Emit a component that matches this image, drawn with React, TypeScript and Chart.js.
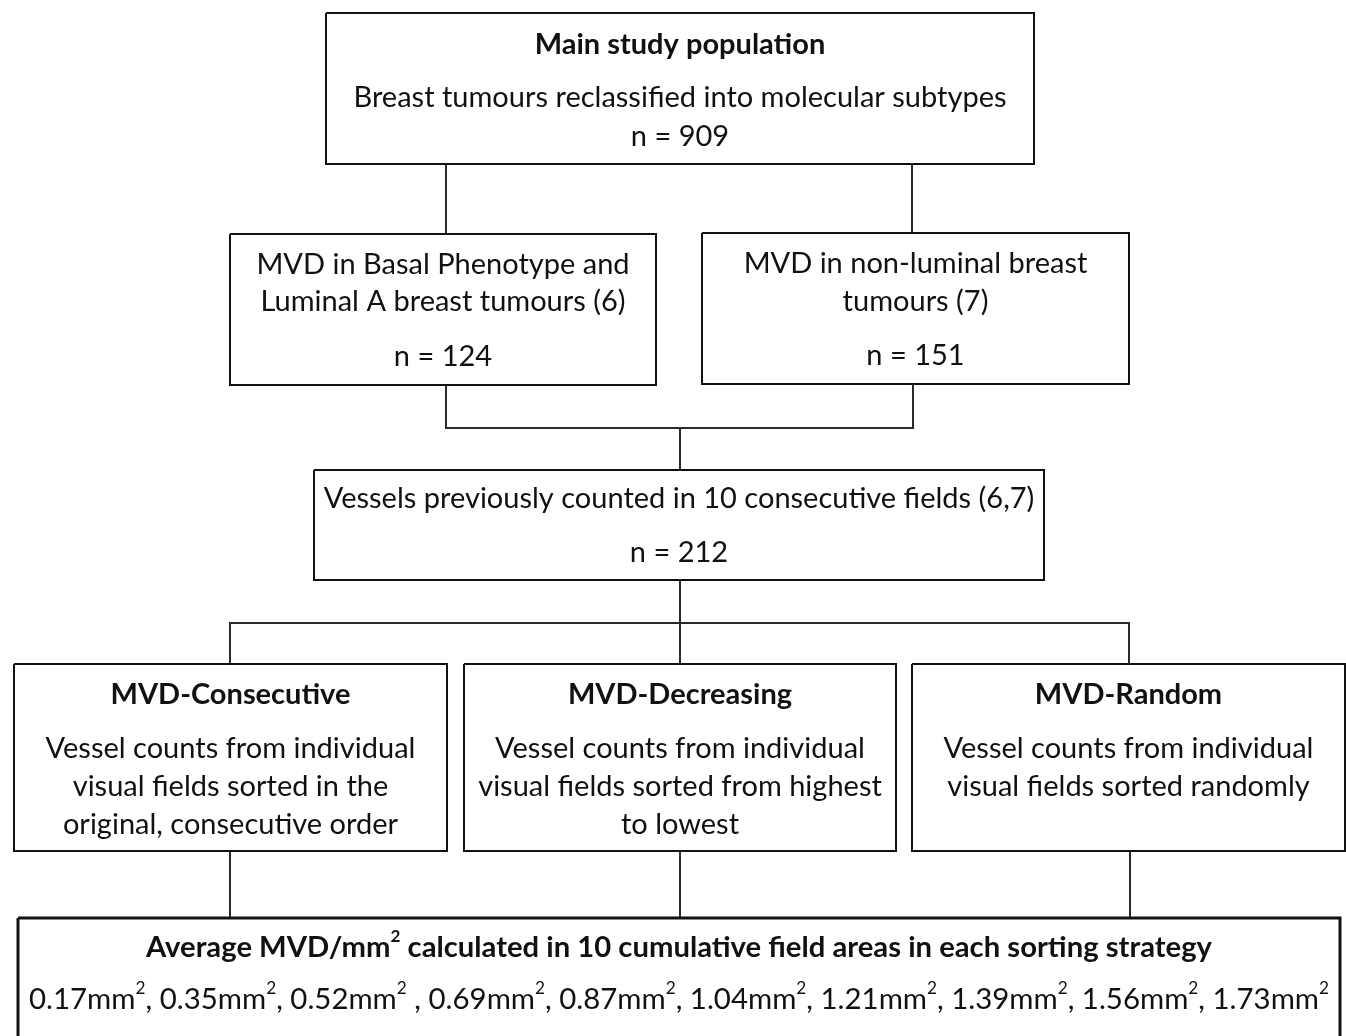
import React, { useEffect, useRef } from "react";
import { Chart, registerables } from "chart.js";

Chart.register(...registerables);

// ---------- content ----------
const boxTitles: string[] = [
  "Main study population",
  "",
  "",
  "",
  "MVD-Consecutive",
  "MVD-Decreasing",
  "MVD-Random",
  "Average MVD/mm^2 calculated in 10 cumulative field areas in each sorting strategy",
];

const fieldAreas: string[] = ["0.17", "0.35", "0.52", "0.69", "0.87", "1.04", "1.21", "1.39", "1.56", "1.73"];
const areaLine = fieldAreas
  .map((a, i) => a + "mm^2" + (i === fieldAreas.length - 1 ? "" : i === 2 ? " , " : ", "))
  .join("");

const boxBodies: string[][] = [
  ["Breast tumours reclassified into molecular subtypes", "n = 909"],
  ["MVD in Basal Phenotype and", "Luminal A breast tumours (6)", "n = 124"],
  ["MVD in non-luminal breast", "tumours (7)", "n = 151"],
  ["Vessels previously counted in 10 consecutive fields (6,7)", "n = 212"],
  ["Vessel counts from individual", "visual fields sorted in the", "original, consecutive order"],
  ["Vessel counts from individual", "visual fields sorted from highest", "to lowest"],
  ["Vessel counts from individual", "visual fields sorted randomly"],
  [areaLine],
];

// ---------- layout (value space = pixel grid of the figure) ----------
const boxRects: number[][] = [
  [326, 13, 1034, 164],
  [230, 234, 656, 385],
  [702, 233, 1129, 384],
  [314, 470, 1044, 580],
  [14, 664, 447, 851],
  [464, 664, 896, 851],
  [912, 664, 1345, 851],
  [18, 918, 1340, 1080],
];
const boxBorder: number[] = [2, 2, 2, 2, 2, 2, 2, 3];
const titleY: number[] = [45, 0, 0, 0, 695, 695, 695, 948];
const bodyY: number[][] = [
  [98, 137],
  [265, 302, 357],
  [264, 302, 356],
  [499, 553],
  [749, 787, 825],
  [749, 787, 825],
  [749, 787],
  [1000],
];
const titleFit: number[] = [0, 0, 0, 0, 0, 0, 0, 1066];
const bodyFit: number[][] = [[0, 0], [0, 0, 0], [0, 0, 0], [0, 0], [0, 0, 0], [0, 0, 0], [0, 0], [1300]];

const connectors: number[][][] = [
  [[446, 164], [446, 234]],
  [[912, 164], [912, 233]],
  [[446, 385], [446, 428], [913, 428], [913, 384]],
  [[680, 428], [680, 470]],
  [[680, 580], [680, 623]],
  [[230, 664], [230, 623], [1129, 623], [1129, 664]],
  [[680, 623], [680, 664]],
  [[230, 851], [230, 918]],
  [[680, 851], [680, 918]],
  [[1130, 851], [1130, 918]],
];

const W = 1346;
const H = 1036;
const FONT = "Lato, 'Open Sans', sans-serif";
const SIZE = 29;
const INK = "#111111";

type Seg = { t: string; sup: boolean };
function parse(s: string): Seg[] {
  const out: Seg[] = [];
  let buf = "";
  for (let i = 0; i < s.length; i++) {
    if (s[i] === "^" && i + 1 < s.length) {
      if (buf) out.push({ t: buf, sup: false });
      buf = "";
      out.push({ t: s[i + 1], sup: true });
      i++;
    } else buf += s[i];
  }
  if (buf) out.push({ t: buf, sup: false });
  return out;
}

function drawRich(ctx: CanvasRenderingContext2D, text: string, cx: number, cy: number, bold: boolean, fit: number) {
  const segs = parse(text);
  const w = bold ? "bold " : "";
  const normal = `${w}${SIZE}px ${FONT}`;
  const small = `${w}${Math.round(SIZE * 0.6)}px ${FONT}`;
  let total = 0;
  const widths = segs.map((s) => {
    ctx.font = s.sup ? small : normal;
    const m = ctx.measureText(s.t).width;
    total += m;
    return m;
  });
  const k = fit > 0 ? fit / total : 1;
  ctx.save();
  ctx.translate(cx, cy);
  ctx.scale(k, 1);
  ctx.fillStyle = INK;
  ctx.textBaseline = "middle";
  ctx.textAlign = "left";
  let x = -total / 2;
  segs.forEach((s, i) => {
    ctx.font = s.sup ? small : normal;
    ctx.fillText(s.t, x, s.sup ? -SIZE * 0.38 : 0);
    x += widths[i];
  });
  ctx.restore();
}

const bgPlugin = {
  id: "bg",
  beforeDraw(chart: any) {
    const c = chart.ctx;
    c.save();
    c.fillStyle = "#ffffff";
    c.fillRect(0, 0, chart.width, chart.height);
    c.restore();
  },
};

const textPlugin = {
  id: "boxText",
  afterDatasetsDraw(chart: any) {
    const ctx = chart.ctx as CanvasRenderingContext2D;
    const xs = chart.scales.x;
    const ys = chart.scales.y;
    boxRects.forEach((r, i) => {
      const cx = xs.getPixelForValue((r[0] + r[2]) / 2);
      if (boxTitles[i]) drawRich(ctx, boxTitles[i], cx, ys.getPixelForValue(titleY[i]), true, titleFit[i]);
      boxBodies[i].forEach((line, j) => {
        drawRich(ctx, line, cx, ys.getPixelForValue(bodyY[i][j]), false, bodyFit[i][j]);
      });
    });
  },
};

export default function App() {
  const ref = useRef<HTMLCanvasElement | null>(null);
  useEffect(() => {
    if (!ref.current) return;
    const datasets: any[] = [];
    boxRects.forEach((r, i) => {
      datasets.push({
        data: [
          { x: r[0], y: r[1] },
          { x: r[2], y: r[1] },
          { x: r[2], y: r[3] },
          { x: r[0], y: r[3] },
          { x: r[0], y: r[1] },
        ],
        showLine: true,
        borderColor: INK,
        borderWidth: boxBorder[i],
        pointRadius: 0,
        fill: false,
        tension: 0,
        clip: false,
      });
    });
    connectors.forEach((p) => {
      datasets.push({
        data: p.map((q) => ({ x: q[0], y: q[1] })),
        showLine: true,
        borderColor: "#2a2a2a",
        borderWidth: 2,
        pointRadius: 0,
        fill: false,
        tension: 0,
        clip: false,
      });
    });
    const chart = new Chart(ref.current, {
      type: "scatter",
      data: { datasets },
      options: {
        responsive: false,
        animation: false,
        layout: { padding: 0 },
        plugins: { legend: { display: false }, tooltip: { enabled: false } },
        scales: {
          x: { type: "linear", min: 0, max: W, display: false },
          y: { type: "linear", min: 0, max: H, reverse: true, display: false },
        },
      },
      plugins: [bgPlugin, textPlugin],
    } as any);
    return () => chart.destroy();
  }, []);
  return (
    <div style={{ position: "absolute", left: 0, top: 0, width: W, height: H, background: "#fff" }}>
      <canvas ref={ref} width={W} height={H} style={{ display: "block", width: W, height: H }} />
    </div>
  );
}
